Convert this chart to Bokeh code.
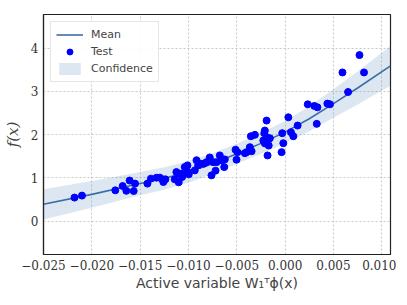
from bokeh.plotting import figure
from bokeh.models import (FixedTicker, CustomJSTickFormatter,
                          Legend, LegendItem, Range1d)
from bokeh.embed import file_html
from bokeh.resources import INLINE

# ---- data ----
test_x = [-0.02179, -0.02102, -0.01757, -0.01681, -0.01643, -0.01609, -0.01567,
          -0.01553, -0.01425, -0.01389, -0.0133, -0.01296, -0.0127, -0.0126, -0.01239,
          -0.01142, -0.01125, -0.01101, -0.01091, -0.01066, -0.01055, -0.01039,
          -0.01028, -0.01011, -0.01004, -0.00997, -0.00935, -0.00917, -0.009,
          -0.00873, -0.00842, -0.00814, -0.0078, -0.00762, -0.00744, -0.0072,
          -0.0071, -0.00676, -0.00658, -0.0063, -0.00624,
          -0.00513, -0.00503, -0.00493, -0.00417, -0.00399, -0.00365, -0.00347,
          -0.00355, -0.00313, -0.00226, -0.0021, -0.00192, -0.00216, -0.00192,
          -0.00174, -0.00158, -0.00182, -0.0021, -0.0017, -0.0003, -0.00037,
          -0.00019, 0.00033, 0.0006, 0.00085, 0.00129,
          0.00234, 0.00302, 0.00334, 0.00437, 0.00464, 0.00327, 0.00651, 0.00593,
          0.00816, 0.00769]
test_y = [0.546, 0.592, 0.714, 0.813, 0.703, 0.940, 0.698,
          0.869, 0.869, 0.984, 1.007, 1.007, 0.968, 0.906, 0.968,
          0.968, 1.136, 0.899, 1.099, 1.021, 1.099, 1.251,
          1.175, 1.290, 1.136, 1.083, 1.175, 1.410, 1.290,
          1.329, 1.329, 1.366, 1.475, 1.060, 1.366, 1.168,
          1.366, 1.521, 1.406, 1.251, 1.429,
          1.652, 1.422, 1.597, 1.574, 1.597, 1.712, 1.620,
          1.965, 1.998, 1.866, 2.097, 2.327, 2.035, 1.942,
          1.882, 1.919, 1.521, 1.800, 1.750, 2.035, 1.597,
          1.804, 2.403, 2.058, 1.965, 2.212,
          2.703, 2.666, 2.634, 2.719, 2.703, 2.251, 2.988, 3.440,
          3.440, 3.841]

mean_x = [-0.025, -0.020, -0.015, -0.0125, -0.010, -0.0075, -0.005, -0.0025,
          0.000, 0.0025, 0.005, 0.0075, 0.0109]
mean_y = [0.39, 0.62, 0.87, 0.99, 1.14, 1.33, 1.56, 1.80, 2.06, 2.37, 2.72,
          3.08, 3.59]
band_lower = [0.04, 0.31, 0.60, 0.73, 0.89, 1.09, 1.33, 1.56, 1.80, 2.08,
              2.39, 2.70, 3.13]
band_upper = [0.74, 0.93, 1.14, 1.25, 1.39, 1.57, 1.79, 2.04, 2.32, 2.66,
              3.05, 3.46, 4.05]

x_ticks = [-0.025, -0.020, -0.015, -0.010, -0.005, 0.000, 0.005, 0.010]
y_ticks = [0, 1, 2, 3, 4]

x_label = "Active variable W\u2081\u1d40\u03d5(x)"
y_label = "f(x)"

# ---- figure ----
p = figure(width=396, height=293, output_backend="svg", toolbar_location=None,
           x_range=Range1d(-0.025, 0.0109), y_range=Range1d(-0.77, 4.78),
           min_border_left=43, min_border_right=6, min_border_top=14,
           min_border_bottom=38)

band = p.varea(x=mean_x, y1=band_lower, y2=band_upper,
               fill_color="#5587be", fill_alpha=0.2)
line = p.line(x=mean_x, y=mean_y, line_color="#3b6ea8", line_width=1.6)
pts = p.scatter(x=test_x, y=test_y, size=7, color="#0000ff", line_color="#0000ff")

p.outline_line_color = "#222222"
p.outline_line_width = 1.2

p.xaxis.ticker = FixedTicker(ticks=x_ticks)
p.yaxis.ticker = FixedTicker(ticks=y_ticks)
p.xaxis.formatter = CustomJSTickFormatter(
    code="return tick.toFixed(3).replace('-', '\u2212');")
p.yaxis.formatter = CustomJSTickFormatter(
    code="return Math.round(tick).toString();")

for axes in (p.xaxis, p.yaxis):
    axes.axis_line_color = "#222222"
    axes.axis_line_width = 1.2
    axes.major_tick_line_color = None
    axes.minor_tick_line_color = None
    axes.major_tick_out = 0
    axes.major_tick_in = 0
    axes.major_label_text_font = "DejaVu Serif"
    axes.major_label_text_font_size = "12px"
    axes.major_label_text_color = "#333333"
    axes.major_label_standoff = 5

p.xaxis.axis_label = x_label
p.xaxis.axis_label_text_font = "DejaVu Sans"
p.xaxis.axis_label_text_font_style = "normal"
p.xaxis.axis_label_text_font_size = "14px"
p.xaxis.axis_label_standoff = 2

p.yaxis.axis_label = y_label
p.yaxis.axis_label_text_font = "DejaVu Serif"
p.yaxis.axis_label_text_font_style = "italic"
p.yaxis.axis_label_text_font_size = "15px"
p.yaxis.axis_label_standoff = 6

p.grid.grid_line_color = "#c8c8c8"
p.grid.grid_line_dash = "2 2"
p.grid.grid_line_width = 1

legend = Legend(items=[
    LegendItem(label="Mean", renderers=[line]),
    LegendItem(label="Test", renderers=[pts]),
    LegendItem(label="Confidence", renderers=[band]),
], location="top_left")
legend.margin = 7
legend.padding = 5
legend.spacing = 2
legend.glyph_height = 15
legend.glyph_width = 27
legend.label_height = 15
legend.label_standoff = 8
legend.label_text_font = "DejaVu Sans"
legend.label_text_font_size = "11px"
legend.border_line_color = "#cccccc"
legend.border_line_width = 1
legend.background_fill_alpha = 0.9
p.add_layout(legend)

open("out.html", "w").write(file_html(p, INLINE))
